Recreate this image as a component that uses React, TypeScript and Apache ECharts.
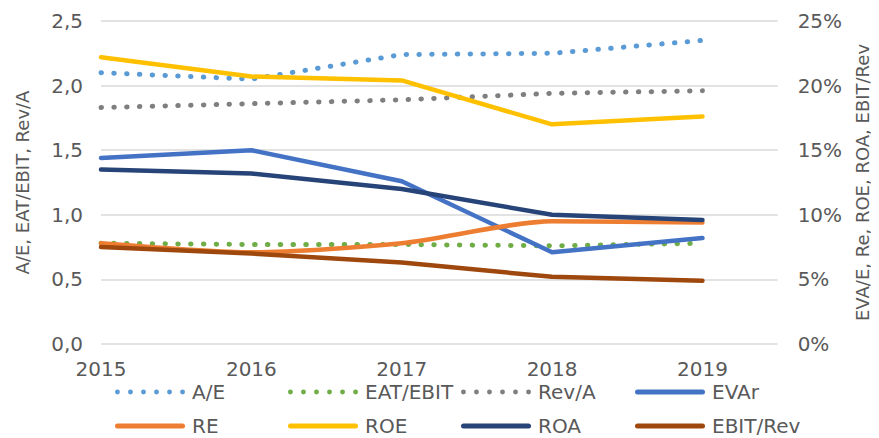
import React, { useEffect, useRef } from "react";
import * as echarts from "echarts";

const years = [2015, 2016, 2017, 2018, 2019];
const ratioTicks = [0, 0.5, 1.0, 1.5, 2.0, 2.5];
const pctTicks = [0, 0.05, 0.1, 0.15, 0.2, 0.25];

// left axis (ratios)
const aE = [2.1, 2.05, 2.24, 2.25, 2.35];
const eatEbit = [0.78, 0.77, 0.77, 0.76, 0.78];
const revA = [1.83, 1.86, 1.89, 1.94, 1.96];
// right axis (percent)
const evar = [0.144, 0.15, 0.126, 0.071, 0.082];
const re = [0.078, 0.071, 0.078, 0.095, 0.094];
const roe = [0.222, 0.207, 0.204, 0.17, 0.176];
const roa = [0.135, 0.132, 0.12, 0.1, 0.096];
const ebitRev = [0.075, 0.07, 0.063, 0.052, 0.049];

const FONT = "DejaVu Sans";
const TXT = "#595959";

type S = {
  name: string;
  data: number[];
  color: string;
  axis: number;
  dotted?: boolean;
  smooth?: boolean;
};

const seriesDefs: S[] = [
  { name: "A/E", data: aE, color: "#5B9BD5", axis: 0, dotted: true },
  { name: "EAT/EBIT", data: eatEbit, color: "#70AD47", axis: 0, dotted: true },
  { name: "Rev/A", data: revA, color: "#7F7F7F", axis: 0, dotted: true },
  { name: "EVAr", data: evar, color: "#4472C4", axis: 1 },
  { name: "RE", data: re, color: "#ED7D31", axis: 1, smooth: true },
  { name: "ROE", data: roe, color: "#FFC000", axis: 1 },
  { name: "ROA", data: roa, color: "#264478", axis: 1 },
  { name: "EBIT/Rev", data: ebitRev, color: "#9E480E", axis: 1 },
];

const legendCols = [115, 288, 461, 635];
const legendRows = [381, 415];

function dotsIcon(): string {
  const r = 2.4;
  let d = "path://";
  for (let i = 0; i < 6; i++) {
    const cx = 3 + i * 12.8;
    d += `M${cx - r},${r} A${r},${r} 0 1,0 ${cx + r},${r} A${r},${r} 0 1,0 ${cx - r},${r} Z `;
  }
  return d;
}
const solidIcon =
  "path://M2.5,0 L67.5,0 A2.5,2.5 0 0,1 67.5,5 L2.5,5 A2.5,2.5 0 0,1 2.5,0 Z";

export default function App() {
  const ref = useRef<HTMLDivElement>(null);
  useEffect(() => {
    if (!ref.current) return;
    const chart = echarts.init(ref.current, undefined, { renderer: "svg" });
    const series = seriesDefs.map((s) => ({
      name: s.name,
      type: "line",
      yAxisIndex: s.axis,
      data: s.data.map((v, i) => [years[i], v]),
      showSymbol: false,
      symbol: "none",
      smooth: s.smooth ? 0.25 : false,
      color: s.color,
      lineStyle: s.dotted
        ? { color: s.color, width: 5, type: [0.5, 12.3], cap: "round" }
        : { color: s.color, width: 4.5, cap: "round", join: "round" },
    }));
    const legends = seriesDefs.map((s, i) => ({
      data: [{ name: s.name, icon: s.dotted ? dotsIcon() : solidIcon }],
      left: legendCols[i % 4],
      top: legendRows[Math.floor(i / 4)],
      padding: 0,
      itemWidth: 70,
      itemHeight: 5,
      textStyle: {
        fontFamily: FONT,
        fontSize: 20,
        lineHeight: 22,
        color: TXT,
        padding: [0, 0, 0, 2],
      },
    }));
    chart.setOption({
      animation: false,
      backgroundColor: "#ffffff",
      textStyle: { fontFamily: FONT },
      grid: { left: 101, right: 98, top: 21, bottom: 94 },
      legend: legends,
      xAxis: {
        type: "value",
        min: years[0],
        max: 2019.5,
        interval: 1,
        axisLine: { show: false },
        axisTick: { show: false },
        splitLine: { show: false },
        axisLabel: {
          fontFamily: FONT,
          fontSize: 20,
          color: TXT,
          margin: 15,
          showMaxLabel: false,
          formatter: (v: number) => (years.includes(v) ? String(v) : ""),
        },
      },
      yAxis: [
        {
          type: "value",
          min: ratioTicks[0],
          max: ratioTicks[ratioTicks.length - 1],
          interval: 0.5,
          name: "A/E, EAT/EBIT, Rev/A",
          nameLocation: "middle",
          nameGap: 70,
          nameTextStyle: { fontFamily: FONT, fontSize: 18, color: TXT },
          axisLine: { show: false },
          axisTick: { show: false },
          axisLabel: {
            fontFamily: FONT,
            fontSize: 20,
            color: TXT,
            margin: 18,
            formatter: (v: number) => v.toFixed(1).replace(".", ","),
          },
          splitLine: { lineStyle: { color: "#D9D9D9", width: 1.5 } },
        },
        {
          type: "value",
          min: pctTicks[0],
          max: pctTicks[pctTicks.length - 1],
          interval: 0.05,
          position: "right",
          name: "EVA/E, Re, ROE, ROA, EBIT/Rev",
          nameLocation: "middle",
          nameGap: 75,
          nameTextStyle: { fontFamily: FONT, fontSize: 18, color: TXT },
          axisLine: { show: false },
          axisTick: { show: false },
          axisLabel: {
            fontFamily: FONT,
            fontSize: 20,
            color: TXT,
            margin: 20,
            formatter: (v: number) => Math.round(v * 100) + "%",
          },
          splitLine: { show: false },
        },
      ],
      series,
    });
    return () => chart.dispose();
  }, []);
  return (
    <div
      ref={ref}
      style={{ width: 879, height: 438, marginLeft: -8, marginTop: -8 }}
    />
  );
}
